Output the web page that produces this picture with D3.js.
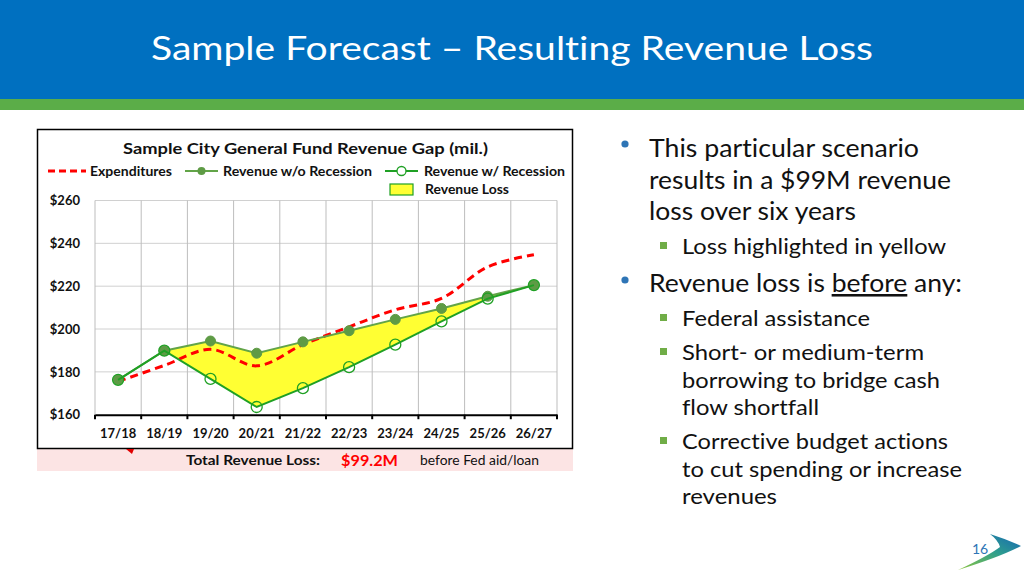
<!DOCTYPE html>
<html>
<head>
<meta charset="utf-8">
<script src="https://cdn.jsdelivr.net/npm/d3@7"></script>
<style>
  html, body { margin: 0; padding: 0; background: #fff; }
  svg { display: block; }
  svg text { font-variant-ligatures: none; font-feature-settings: "liga" 0, "clig" 0; }
</style>
</head>
<body>
<svg id="chart" width="1024" height="576"></svg>
<script>
// ---------- DATA ----------
const categories = ["17/18","18/19","19/20","20/21","21/22","22/23","23/24","24/25","25/26","26/27"];
const expenditures = [175.5, 183.0, 190.5, 182.8, 192.7, 201.0, 209.0, 214.3, 229.0, 234.7];
const revenueNoRecession = [176.3, 189.9, 194.4, 188.7, 194.0, 199.2, 204.5, 209.6, 215.3, 220.5];
const revenueRecession = [176.3, 189.9, 176.7, 163.6, 172.4, 182.2, 192.7, 203.6, 214.2, 220.5];
const yTicks = [160, 180, 200, 220, 240, 260];
const chartTitle = "Sample City General Fund Revenue Gap (mil.)";
const legendLabels = ["Expenditures", "Revenue w/o Recession", "Revenue w/ Recession", "Revenue Loss"];
const slideTitle = "Sample Forecast \u2013 Resulting Revenue Loss";
const totalLossLabel = "Total Revenue Loss:";
const totalLossValue = "$99.2M";
const totalLossNote = "before Fed aid/loan";
const pageNumber = "16";

// ---------- SETUP ----------
const svg = d3.select("#chart");
const FONT = "Lato, 'Open Sans', sans-serif";
function fit(sel, w) { return sel.attr("textLength", w).attr("lengthAdjust", "spacingAndGlyphs"); }

// Header
svg.append("rect").attr("x", 0).attr("y", 0).attr("width", 1024).attr("height", 99).attr("fill", "#0070C0");
svg.append("rect").attr("x", 0).attr("y", 99).attr("width", 1024).attr("height", 11).attr("fill", "#5BAD48");
fit(svg.append("text").attr("x", 151).attr("y", 60).attr("fill", "#fff")
  .attr("font-family", FONT).attr("font-size", 33).text(slideTitle), 722);

// Chart box
svg.append("rect").attr("x", 37).attr("y", 449).attr("width", 536).attr("height", 22).attr("fill", "#FCE4E4");
svg.append("rect").attr("x", 37.5).attr("y", 129.5).attr("width", 535).attr("height", 319)
  .attr("fill", "#fff").attr("stroke", "#000").attr("stroke-width", 1.5);
// small red marker peeking below chart box
svg.append("path").attr("d", "M126,449 L134,449 L132,454 Z").attr("fill", "#E00000");

// Scales
const x = d3.scaleBand().domain(categories).range([95, 557]).padding(0);
const y = d3.scaleLinear().domain([160, 260]).range([414.7, 200.5]);
const cx = c => x(c) + x.bandwidth() / 2;

const g = svg.append("g");

// Horizontal grid
g.selectAll(".hgrid").data(yTicks.filter(t => t > 160)).join("line")
  .attr("x1", x.range()[0]).attr("x2", x.range()[1])
  .attr("y1", d => y(d)).attr("y2", d => y(d))
  .attr("stroke", "#D0D0D0").attr("stroke-width", 1);

// Vertical grid at band boundaries
const bounds = categories.map(c => x(c)).concat([x.range()[1]]);
g.selectAll(".vgrid").data(bounds).join("line")
  .attr("x1", d => d).attr("x2", d => d)
  .attr("y1", y(260)).attr("y2", y(160))
  .attr("stroke", "#BDBDBD").attr("stroke-width", 1);

// Yellow area (revenue loss)
const idx = d3.range(categories.length);
const area = d3.area()
  .x(i => cx(categories[i]))
  .y0(i => y(revenueRecession[i]))
  .y1(i => y(revenueNoRecession[i]));
g.append("path").datum(idx).attr("d", area).attr("fill", "#FFFF33");

// Expenditures (smoothed dashed red)
const expLine = d3.line().x((d, i) => cx(categories[i])).y(d => y(d)).curve(d3.curveCatmullRom.alpha(0.5));
g.append("path").datum(expenditures).attr("d", expLine)
  .attr("fill", "none").attr("stroke", "#FF0000").attr("stroke-width", 3)
  .attr("stroke-dasharray", "8,5");

// Revenue lines
const line = d3.line().x((d, i) => cx(categories[i])).y(d => y(d));
g.append("path").datum(revenueNoRecession).attr("d", line)
  .attr("fill", "none").attr("stroke", "#62A448").attr("stroke-width", 2);
g.selectAll(".mNo").data(revenueNoRecession).join("circle")
  .attr("cx", (d, i) => cx(categories[i])).attr("cy", d => y(d)).attr("r", 5)
  .attr("fill", "#5E9B45").attr("stroke", "#5E9B45");
g.append("path").datum(revenueRecession).attr("d", line)
  .attr("fill", "none").attr("stroke", "#1FA024").attr("stroke-width", 2);
g.selectAll(".mRec").data(revenueRecession).join("circle")
  .attr("cx", (d, i) => cx(categories[i])).attr("cy", d => y(d)).attr("r", 5.5)
  .attr("fill", "none").attr("stroke", "#1FA024").attr("stroke-width", 1.3);

// X axis
const xAxis = g.append("g").attr("transform", `translate(0,${y(160)})`)
  .call(d3.axisBottom(x).tickSize(0).tickPadding(14));
xAxis.select(".domain").attr("stroke", "#000").attr("stroke-width", 2);
xAxis.selectAll("text").attr("font-family", FONT).attr("font-weight", "bold")
  .attr("font-size", 13).attr("fill", "#111");
g.selectAll(".xtick").data(bounds).join("line")
  .attr("x1", d => d).attr("x2", d => d)
  .attr("y1", y(160)).attr("y2", y(160) + 4.5)
  .attr("stroke", "#000").attr("stroke-width", 2);

// Y axis
const yAxis = g.append("g").attr("transform", `translate(${x.range()[0]},0)`)
  .call(d3.axisLeft(y).tickValues(yTicks).tickFormat(d => "$" + d).tickSize(0).tickPadding(15));
yAxis.select(".domain").remove();
yAxis.selectAll("text").attr("font-family", FONT).attr("font-weight", "bold")
  .attr("font-size", 13).attr("fill", "#111");

// Chart title
fit(svg.append("text").attr("x", 123).attr("y", 154).attr("font-family", FONT)
  .attr("font-weight", "bold").attr("font-size", 15.5).attr("fill", "#111").text(chartTitle), 365);

// Legend
const lg = svg.append("g").attr("font-family", FONT).attr("font-weight", "bold")
  .attr("font-size", 12.5).attr("fill", "#111");
lg.append("line").attr("x1", 48).attr("x2", 86).attr("y1", 171).attr("y2", 171)
  .attr("stroke", "#FF0000").attr("stroke-width", 3).attr("stroke-dasharray", "7,4");
fit(lg.append("text").attr("x", 90).attr("y", 175.5).text(legendLabels[0]), 82);
lg.append("line").attr("x1", 185).attr("x2", 218).attr("y1", 171).attr("y2", 171)
  .attr("stroke", "#62A448").attr("stroke-width", 2);
lg.append("circle").attr("cx", 201.5).attr("cy", 171).attr("r", 4).attr("fill", "#5E9B45");
fit(lg.append("text").attr("x", 223).attr("y", 175.5).text(legendLabels[1]), 149);
lg.append("line").attr("x1", 385).attr("x2", 418).attr("y1", 171).attr("y2", 171)
  .attr("stroke", "#1FA024").attr("stroke-width", 2);
lg.append("circle").attr("cx", 401.5).attr("cy", 171).attr("r", 4.5).attr("fill", "#fff")
  .attr("stroke", "#1FA024").attr("stroke-width", 1.3);
fit(lg.append("text").attr("x", 424).attr("y", 175.5).text(legendLabels[2]), 141);
lg.append("rect").attr("x", 390).attr("y", 184).attr("width", 23).attr("height", 11)
  .attr("fill", "#FFFF33").attr("stroke", "#1FA024").attr("stroke-width", 1.2);
fit(lg.append("text").attr("x", 425).attr("y", 194).text(legendLabels[3]), 84);

// Total revenue loss strip
fit(svg.append("text").attr("x", 186).attr("y", 465).attr("font-family", FONT).attr("font-weight", "bold")
  .attr("font-size", 13.5).attr("fill", "#111").text(totalLossLabel), 134);
fit(svg.append("text").attr("x", 341).attr("y", 466).attr("font-family", FONT).attr("font-weight", "bold")
  .attr("font-size", 16).attr("fill", "#FF0000").text(totalLossValue), 57);
fit(svg.append("text").attr("x", 420).attr("y", 465).attr("font-family", FONT)
  .attr("font-size", 12.5).attr("fill", "#111").text(totalLossNote), 119);

// ---------- RIGHT-SIDE BULLETS ----------
const mainLines1 = [
  {t: "This particular scenario", y: 157, w: 270},
  {t: "results in a $99M revenue", y: 189, w: 302},
  {t: "loss over six years", y: 220, w: 207}
];
const subLines = [
  {t: "Loss highlighted in yellow", y: 254, w: 264, bullet: true},
  {t: "Federal assistance", y: 326, w: 188, bullet: true},
  {t: "Short- or medium-term", y: 360, w: 242, bullet: true},
  {t: "borrowing to bridge cash", y: 388, w: 258},
  {t: "flow shortfall", y: 415, w: 137},
  {t: "Corrective budget actions", y: 449, w: 266, bullet: true},
  {t: "to cut spending or increase", y: 477, w: 280},
  {t: "revenues", y: 504, w: 95}
];
const tg = svg.append("g").attr("font-family", FONT).attr("fill", "#111");
mainLines1.forEach(l => fit(tg.append("text").attr("x", 649).attr("y", l.y).attr("font-size", 25.5).text(l.t), l.w));
// second main bullet with underlined "before"
const t2 = tg.append("text").attr("x", 649).attr("y", 292).attr("font-size", 25.5);
t2.append("tspan").text("Revenue loss is ");
t2.append("tspan").attr("text-decoration", "underline").text("before");
t2.append("tspan").text(" any:");
fit(t2, 313);
subLines.forEach(l => fit(tg.append("text").attr("x", 682).attr("y", l.y).attr("font-size", 22).text(l.t), l.w));

// bullets
svg.selectAll(".bdot").data([144, 280]).join("circle")
  .attr("cx", 625).attr("cy", d => d).attr("r", 3.6).attr("fill", "#2E75B6");
svg.selectAll(".bsq").data(subLines.filter(l => l.bullet)).join("rect")
  .attr("x", 660).attr("y", d => d.y - 12).attr("width", 7).attr("height", 7).attr("fill", "#70AD47");

// ---------- LOGO + PAGE NUMBER ----------
const defs = svg.append("defs");
const grad = defs.append("linearGradient").attr("id", "sw").attr("x1", "0%").attr("y1", "100%").attr("x2", "100%").attr("y2", "0%");
grad.append("stop").attr("offset", "0%").attr("stop-color", "#8DC63F");
grad.append("stop").attr("offset", "55%").attr("stop-color", "#2E9E8E");
grad.append("stop").attr("offset", "100%").attr("stop-color", "#1565B5");
svg.append("path")
  .attr("d", "M990,534 Q1006,539 1021,546 Q1000,557 958,570 Q988,556 1000,547 Q998,540 990,534 Z")
  .attr("fill", "url(#sw)");
svg.append("text").attr("x", 980).attr("y", 554).attr("text-anchor", "middle")
  .attr("font-family", FONT).attr("font-size", 14).attr("fill", "#2E75B6").text(pageNumber);
</script>
</body>
</html>
